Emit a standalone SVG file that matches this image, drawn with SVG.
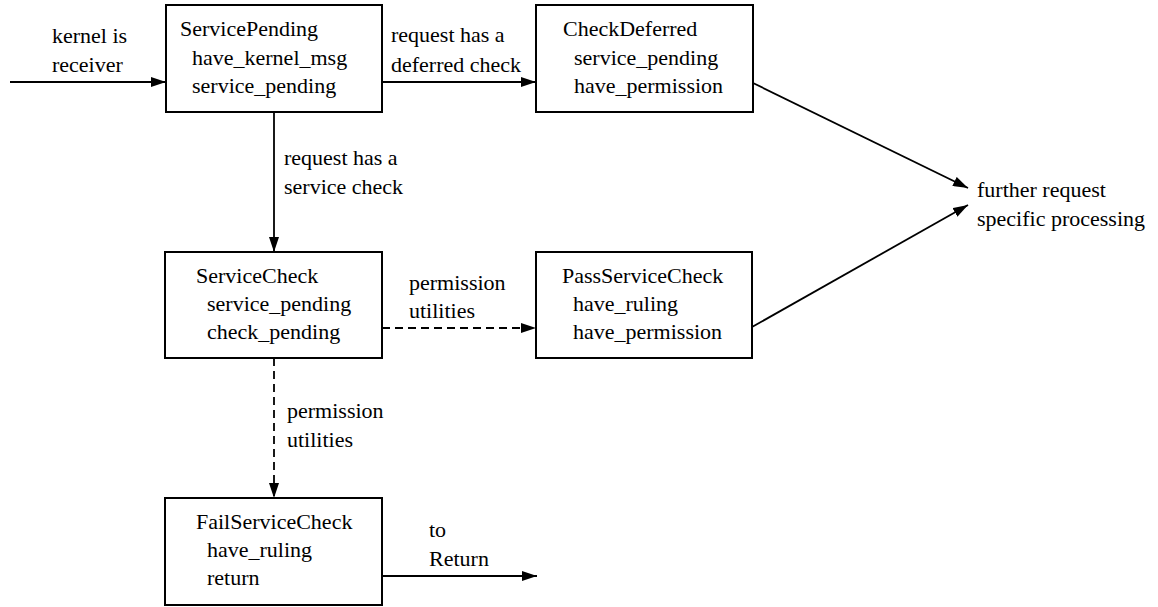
<svg xmlns="http://www.w3.org/2000/svg" width="1158" height="607" viewBox="0 0 1158 607">
  <style>
    text { font-family: 'Liberation Serif', 'Times New Roman', Times, 'Nimbus Roman', 'Nimbus Roman No9 L', 'Noto Serif', Tinos, FreeSerif, 'DejaVu Serif', serif; font-size: 22px; fill: #000; }
    .box { fill: #fff; stroke: #000; stroke-width: 2; }
    .edge { fill: none; stroke: #000; stroke-width: 1.8; }
    .dash { stroke-dasharray: 8 5; }
  </style>
  <defs>
    <marker id="arrow" viewBox="0 0 15 10" refX="15" refY="5" markerWidth="15" markerHeight="10" markerUnits="userSpaceOnUse" orient="auto">
      <path d="M0,0 L15,5 L0,10 Z" fill="#000"/>
    </marker>
  </defs>

  <g id="connectors">
    <line class="edge" x1="10" y1="82" x2="166" y2="82" marker-end="url(#arrow)"/>
    <text x="52" y="43">kernel is</text>
    <text x="52" y="72">receiver</text>

    <line class="edge" x1="382" y1="82" x2="536" y2="82" marker-end="url(#arrow)"/>
    <text x="391" y="42">request has a</text>
    <text x="391" y="72">deferred check</text>

    <line class="edge" x1="274" y1="112" x2="274" y2="252" marker-end="url(#arrow)"/>
    <text x="284" y="165">request has a</text>
    <text x="284" y="194">service check</text>

    <line class="edge dash" x1="382" y1="328" x2="536" y2="328" marker-end="url(#arrow)"/>
    <text x="409" y="290">permission</text>
    <text x="409" y="318">utilities</text>

    <line class="edge dash" x1="274" y1="358" x2="274" y2="498" marker-end="url(#arrow)"/>
    <text x="287" y="418">permission</text>
    <text x="287" y="447">utilities</text>

    <line class="edge" x1="753" y1="83" x2="968" y2="188" marker-end="url(#arrow)"/>
    <line class="edge" x1="752" y1="327" x2="968" y2="205" marker-end="url(#arrow)"/>
    <text x="977" y="197">further request</text>
    <text x="977" y="226">specific processing</text>

    <line class="edge" x1="382" y1="576" x2="537" y2="576" marker-end="url(#arrow)"/>
    <text x="429" y="537">to</text>
    <text x="429" y="566">Return</text>
  </g>

  <g id="ServicePending">
    <rect class="box" x="166" y="5" width="216" height="107"/>
    <text x="180" y="36">ServicePending</text>
    <text x="192" y="65">have_kernel_msg</text>
    <text x="192" y="93">service_pending</text>
  </g>

  <g id="CheckDeferred">
    <rect class="box" x="536" y="5" width="217" height="107"/>
    <text x="563" y="36">CheckDeferred</text>
    <text x="574" y="65">service_pending</text>
    <text x="574" y="93">have_permission</text>
  </g>

  <g id="ServiceCheck">
    <rect class="box" x="165" y="252" width="217" height="106"/>
    <text x="196" y="283">ServiceCheck</text>
    <text x="207" y="311">service_pending</text>
    <text x="207" y="339">check_pending</text>
  </g>

  <g id="PassServiceCheck">
    <rect class="box" x="536" y="252" width="216" height="106"/>
    <text x="562" y="283">PassServiceCheck</text>
    <text x="573" y="311">have_ruling</text>
    <text x="573" y="339">have_permission</text>
  </g>

  <g id="FailServiceCheck">
    <rect class="box" x="165" y="498" width="217" height="107"/>
    <text x="196" y="529">FailServiceCheck</text>
    <text x="207" y="557">have_ruling</text>
    <text x="207" y="585">return</text>
  </g>
</svg>
